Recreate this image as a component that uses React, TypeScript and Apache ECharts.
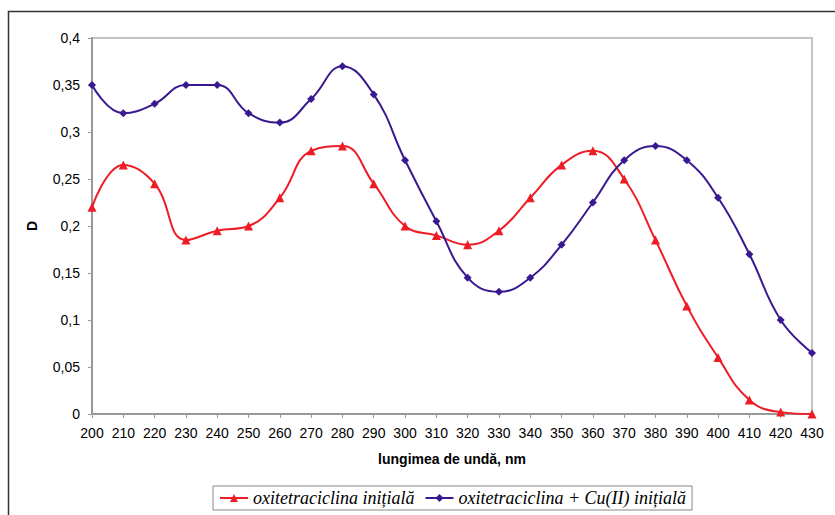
import React, { useEffect, useRef } from "react";
import * as echarts from "echarts";

const wavelengths = [200, 210, 220, 230, 240, 250, 260, 270, 280, 290, 300, 310, 320, 330, 340, 350, 360, 370, 380, 390, 400, 410, 420, 430];
const oxiInitial = [0.22, 0.265, 0.245, 0.185, 0.195, 0.2, 0.23, 0.28, 0.285, 0.245, 0.2, 0.19, 0.18, 0.195, 0.23, 0.265, 0.28, 0.25, 0.185, 0.115, 0.06, 0.015, 0.002, 0.0];
const oxiCu = [0.35, 0.32, 0.33, 0.35, 0.35, 0.32, 0.31, 0.335, 0.37, 0.34, 0.27, 0.205, 0.145, 0.13, 0.145, 0.18, 0.225, 0.27, 0.285, 0.27, 0.23, 0.17, 0.1, 0.065];
const seriesNames = ["oxitetraciclina inițială", "oxitetraciclina + Cu(II) inițială"];
const xTitle = "lungimea de undă, nm";
const yTitle = "D";

export default function App() {
  const ref = useRef<HTMLDivElement>(null);
  useEffect(() => {
    if (!ref.current) return;
    const chart = echarts.init(ref.current, undefined, { renderer: "svg" });
    const red = "#ee1c25";
    const purple = "#3a1990";
    chart.setOption({
      animation: false,
      backgroundColor: "#fff",
      graphic: [
        {
          type: "rect",
          shape: { x: 8.5, y: 11.5, width: 900, height: 600 },
          style: { fill: "none", stroke: "#333", lineWidth: 1.5 },
          z: -1,
        },
      ],
      grid: {
        left: 92,
        right: 23,
        top: 38,
        bottom: 101,
        show: true,
        borderColor: "#c4c4c4",
        borderWidth: 2,
      },
      legend: {
        left: 213,
        top: 486,
        itemWidth: 28,
        itemHeight: 10,
        itemGap: 10,
        padding: [3, 6, 3, 6],
        borderColor: "#888",
        borderWidth: 1,
        textStyle: {
          fontFamily: "Liberation Serif",
          fontStyle: "italic",
          fontSize: 18,
          color: "#000",
        },
        data: seriesNames,
      },
      xAxis: {
        type: "value",
        min: 200,
        max: 430,
        interval: 10,
        name: xTitle,
        nameLocation: "middle",
        nameGap: 38,
        nameTextStyle: { fontFamily: "Liberation Sans", fontWeight: "bold", fontSize: 14, color: "#000" },
        axisLine: { lineStyle: { color: "#999", width: 2 } },
        axisTick: { show: true, length: 4, lineStyle: { color: "#999" } },
        axisLabel: { fontFamily: "Liberation Sans", fontSize: 14, color: "#000", margin: 12 },
        splitLine: { show: false },
      },
      yAxis: {
        type: "value",
        min: 0,
        max: 0.4,
        interval: 0.05,
        name: yTitle,
        nameLocation: "middle",
        nameGap: 53,
        nameTextStyle: { fontFamily: "Liberation Sans", fontWeight: "bold", fontSize: 14, color: "#000" },
        axisLine: { show: true, lineStyle: { color: "#999", width: 2 } },
        axisTick: { show: true, length: 4, lineStyle: { color: "#999" } },
        axisLabel: {
          fontFamily: "Liberation Sans",
          fontSize: 14,
          color: "#000",
          margin: 12,
          formatter: (v: number) => String(Math.round(v * 100) / 100).replace(".", ","),
        },
        splitLine: { show: false },
      },
      series: [
        {
          name: seriesNames[0],
          type: "line",
          data: wavelengths.map((w, i) => [w, oxiInitial[i]]),
          smooth: 0.45,
          symbol: "triangle",
          symbolSize: 9,
          itemStyle: { color: red },
          lineStyle: { color: red, width: 2 },
        },
        {
          name: seriesNames[1],
          type: "line",
          data: wavelengths.map((w, i) => [w, oxiCu[i]]),
          smooth: 0.45,
          symbol: "diamond",
          symbolSize: 8,
          itemStyle: { color: purple },
          lineStyle: { color: purple, width: 2 },
        },
      ],
    });
    return () => chart.dispose();
  }, []);
  return <div ref={ref} style={{ width: 835, height: 515, position: "absolute", left: 0, top: 0 }} />;
}
